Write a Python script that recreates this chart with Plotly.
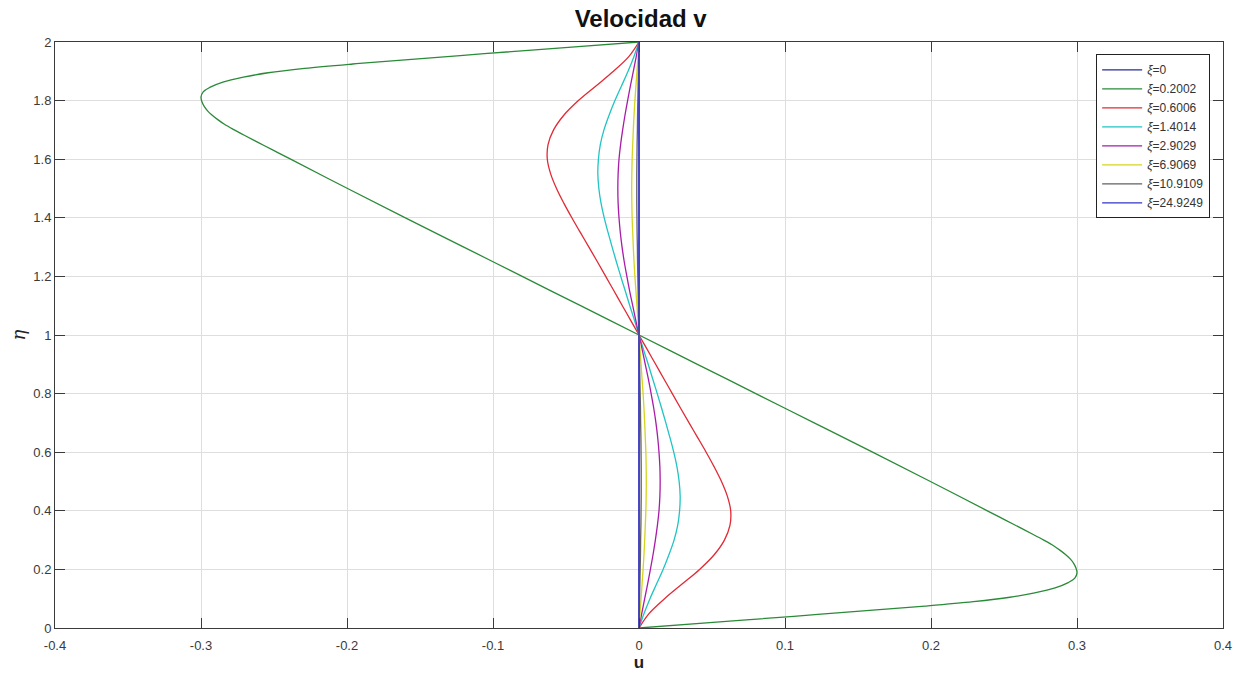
import plotly.graph_objects as go

# ---- data ----
eta = [0.00, 0.05, 0.10, 0.15, 0.20, 0.25, 0.30, 0.35, 0.40, 0.45, 0.50,
       0.55, 0.60, 0.65, 0.70, 0.75, 0.80, 0.85, 0.90, 0.95, 1.00,
       1.05, 1.10, 1.15, 1.20, 1.25, 1.30, 1.35, 1.40, 1.45, 1.50,
       1.55, 1.60, 1.65, 1.70, 1.75, 1.80, 1.85, 1.90, 1.95, 2.00]

u_xi0 = [0.0] * 41

eta_green = [0.000, 0.020, 0.040, 0.060, 0.075, 0.090, 0.105, 0.120, 0.137, 0.155, 0.170, 0.188,
             0.205, 0.220, 0.235, 0.250, 0.265, 0.280, 0.300, 0.320, 0.345, 0.370, 0.400,
             0.500, 0.600, 0.700, 0.800, 0.900, 1.000,
             1.100, 1.200, 1.300, 1.400, 1.500,
             1.600, 1.630, 1.655, 1.680, 1.700, 1.720, 1.735, 1.750, 1.765, 1.780, 1.795, 1.812,
             1.830, 1.845, 1.863, 1.880, 1.895, 1.910, 1.925, 1.940, 1.960, 1.980, 2.000]
u_xi02002 = [0.000, 0.053, 0.106, 0.158, 0.196, 0.229, 0.254, 0.271, 0.285, 0.294, 0.2985, 0.300,
             0.2993, 0.2978, 0.2955, 0.2923, 0.2885, 0.2842, 0.2772, 0.2697, 0.2600, 0.2503, 0.2386,
             0.1996, 0.1600, 0.1200, 0.0800, 0.0400, 0.000,
             -0.0400, -0.0800, -0.1200, -0.1600, -0.1996,
             -0.2386, -0.2503, -0.2600, -0.2697, -0.2772, -0.2842, -0.2885, -0.2923, -0.2955, -0.2978, -0.2993, -0.300,
             -0.2985, -0.294, -0.285, -0.271, -0.254, -0.229, -0.196, -0.158, -0.106, -0.053, 0.000]

u_xi06006 = [0.0000, 0.0070, 0.0175, 0.0295, 0.0415, 0.0515, 0.0585, 0.0623, 0.0628, 0.0605, 0.0565,
             0.0515, 0.0460, 0.0402, 0.0343, 0.0285, 0.0228, 0.0171, 0.0114, 0.0057, 0.0000,
             -0.0057, -0.0114, -0.0171, -0.0228, -0.0285, -0.0343, -0.0402, -0.0460, -0.0515, -0.0565,
             -0.0605, -0.0628, -0.0623, -0.0585, -0.0515, -0.0415, -0.0295, -0.0175, -0.0070, 0.0000]

u_xi14014 = [0.0000, 0.0035, 0.0075, 0.0120, 0.0165, 0.0205, 0.0240, 0.0265, 0.0278, 0.0282, 0.0275,
             0.0260, 0.0238, 0.0212, 0.0184, 0.0155, 0.0125, 0.0094, 0.0063, 0.0031, 0.0000,
             -0.0031, -0.0063, -0.0094, -0.0125, -0.0155, -0.0184, -0.0212, -0.0238, -0.0260, -0.0275,
             -0.0282, -0.0278, -0.0265, -0.0240, -0.0205, -0.0165, -0.0120, -0.0075, -0.0035, 0.0000]

u_xi29029 = [0.0000, 0.0019, 0.0039, 0.0059, 0.0078, 0.0096, 0.0112, 0.0126, 0.0137, 0.0143, 0.0145,
             0.0143, 0.0137, 0.0128, 0.0116, 0.0101, 0.0083, 0.0064, 0.0043, 0.0022, 0.0000,
             -0.0022, -0.0043, -0.0064, -0.0083, -0.0101, -0.0116, -0.0128, -0.0137, -0.0143, -0.0145,
             -0.0143, -0.0137, -0.0126, -0.0112, -0.0096, -0.0078, -0.0059, -0.0039, -0.0019, 0.0000]

u_xi69069 = [0.0000, 0.0007, 0.0014, 0.0021, 0.0028, 0.0034, 0.0039, 0.0043, 0.0047, 0.0049, 0.0050,
             0.0049, 0.0047, 0.0043, 0.0039, 0.0034, 0.0028, 0.0021, 0.0014, 0.0007, 0.0000,
             -0.0007, -0.0014, -0.0021, -0.0028, -0.0034, -0.0039, -0.0043, -0.0047, -0.0049, -0.0050,
             -0.0049, -0.0047, -0.0043, -0.0039, -0.0034, -0.0028, -0.0021, -0.0014, -0.0007, 0.0000]

u_xi109109 = [0.0000, 0.0002, 0.0004, 0.0006, 0.0008, 0.0010, 0.0011, 0.0013, 0.0014, 0.0015, 0.0015,
              0.0015, 0.0014, 0.0013, 0.0011, 0.0010, 0.0008, 0.0006, 0.0004, 0.0002, 0.0000,
              -0.0002, -0.0004, -0.0006, -0.0008, -0.0010, -0.0011, -0.0013, -0.0014, -0.0015, -0.0015,
              -0.0015, -0.0014, -0.0013, -0.0011, -0.0010, -0.0008, -0.0006, -0.0004, -0.0002, 0.0000]

u_xi249249 = [0.0] * 41

series = [
    ("<i>ξ</i>=0", eta, u_xi0, "#2a2a9a"),
    ("<i>ξ</i>=0.2002", eta_green, u_xi02002, "#2b8a38"),
    ("<i>ξ</i>=0.6006", eta, u_xi06006, "#e02a35"),
    ("<i>ξ</i>=1.4014", eta, u_xi14014, "#20c4c4"),
    ("<i>ξ</i>=2.9029", eta, u_xi29029, "#a81ca8"),
    ("<i>ξ</i>=6.9069", eta, u_xi69069, "#d4d420"),
    ("<i>ξ</i>=10.9109", eta, u_xi109109, "#606060"),
    ("<i>ξ</i>=24.9249", eta, u_xi249249, "#3333cc"),
]

x_ticks = [-0.4, -0.3, -0.2, -0.1, 0, 0.1, 0.2, 0.3, 0.4]
x_ticklabels = ["-0.4", "-0.3", "-0.2", "-0.1", "0", "0.1", "0.2", "0.3", "0.4"]
y_ticks = [0, 0.2, 0.4, 0.6, 0.8, 1, 1.2, 1.4, 1.6, 1.8, 2]
y_ticklabels = ["0", "0.2", "0.4", "0.6", "0.8", "1", "1.2", "1.4", "1.6", "1.8", "2"]

fig = go.Figure()
for name, yy, xx, col in series:
    fig.add_trace(go.Scatter(
        x=xx, y=yy, mode="lines", name=name,
        line=dict(color=col, width=1.3, shape="spline", smoothing=1.0),
    ))

axis_common = dict(
    showline=True, linecolor="#3a3a3a", linewidth=1, mirror="ticks",
    ticks="inside", ticklen=10, tickwidth=1, tickcolor="#3a3a3a",
    showgrid=True, gridcolor="#dedede", gridwidth=1, zeroline=False,
    tickfont=dict(family="Liberation Sans, Arial, sans-serif", size=13, color="#3a3a3a"),
)

fig.update_layout(
    width=1244, height=679,
    margin=dict(l=55, r=18, t=42, b=51),
    paper_bgcolor="white", plot_bgcolor="white",
    title=dict(text="<b>Velocidad v</b>", x=0.515, xanchor="center", y=0.972, yanchor="middle",
               font=dict(family="Liberation Sans, Arial, sans-serif", size=24, color="#111111")),
    xaxis=dict(range=[-0.4, 0.4], tickvals=x_ticks, ticktext=x_ticklabels, ticklabelstandoff=5,
               title=dict(text="<b>u</b>", standoff=2,
                          font=dict(family="Liberation Sans, Arial, sans-serif", size=17, color="#222222")),
               **axis_common),
    yaxis=dict(range=[0, 2], tickvals=y_ticks, ticktext=y_ticklabels,
               title=dict(text="<i>η</i>", standoff=3,
                          font=dict(family="DejaVu Serif, serif", size=18, color="#222222")),
               **axis_common),
    legend=dict(x=0.989, y=0.979, xanchor="right", yanchor="top",
                bgcolor="white", bordercolor="#222222", borderwidth=1,
                font=dict(family="Liberation Sans, Arial, sans-serif", size=12, color="#333333"),
                tracegroupgap=0, itemwidth=40),
    showlegend=True,
)

fig.write_html("out.html")
